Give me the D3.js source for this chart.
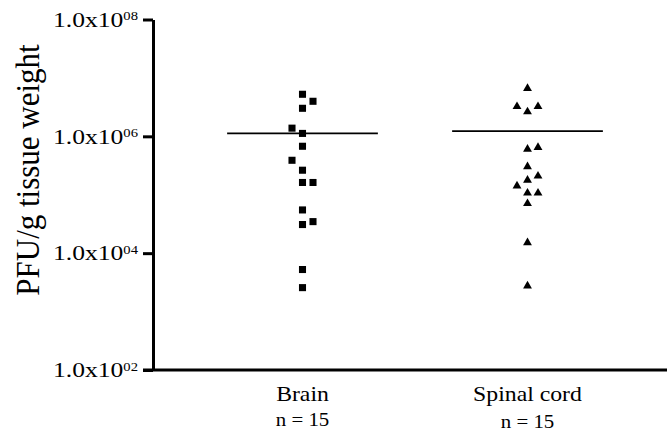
<!DOCTYPE html>
<html>
<head>
<meta charset="utf-8">
<script src="https://cdn.jsdelivr.net/npm/d3@7"></script>
<style>
  body { margin: 0; background: #fff; }
  text { font-family: "Liberation Serif", "DejaVu Serif", serif; fill: #000; }
</style>
</head>
<body>
<div id="chart"></div>
<script>
// categories and n labels
let groups = ["Brain", "Spinal cord"];
let nLabels = ["n = 15", "n = 15"];

// PFU/g values (log10), with dodge slot (-1 left, 0 centre, 1 right)
let brainLog = [6.72, 6.60, 6.48, 6.14, 6.05, 5.83, 5.59, 5.42, 5.21, 5.21, 4.74, 4.54, 4.49, 3.72, 3.41];
let brainSlot = [0, 1, 0, -1, 0, 0, -1, 0, 0, 1, 0, 1, 0, 0, 0];
let cordLog = [6.82, 6.51, 6.42, 6.51, 5.78, 5.81, 5.48, 5.25, 5.32, 5.15, 5.03, 5.03, 4.85, 4.18, 3.44];
let cordSlot = [0, -1, 0, 1, 0, 1, 0, 0, 1, -1, 0, 1, 0, 0, 0];

// horizontal line per group (log10)
let centreLog = [6.05, 6.09];

let yTicks = [1e2, 1e4, 1e6, 1e8];

let W = 667, H = 434;

let svg = d3.select('#chart')
    .append('svg')
    .attr('width', W)
    .attr('height', H);

let yScale = d3.scaleLog()
    .domain([1e2, 1e8])
    .range([370, 19.5]);

let xScale = d3.scaleBand()
    .domain(groups)
    .range([190, 640]);

let dodge = d3.scaleLinear().domain([-1, 1]).range([-10.5, 10.5]);

let series = [
    {group: "Brain", logs: brainLog, slots: brainSlot, shape: d3.symbolSquare, size: 50},
    {group: "Spinal cord", logs: cordLog, slots: cordSlot, shape: d3.symbolTriangle, size: 34}
];

// y axis
let yAxis = d3.axisLeft(yScale)
    .tickValues(yTicks)
    .tickSize(10)
    .tickSizeOuter(0)
    .tickFormat('');

let gy = svg.append('g')
    .attr('transform', 'translate(153,0)')
    .call(yAxis);
gy.select('.domain').attr('stroke', '#000').attr('stroke-width', 3);
gy.selectAll('.tick line').attr('stroke', '#000').attr('stroke-width', 3);

// tick labels 1.0x10^NN (the original is stretched sideways)
gy.selectAll('.tick').each(function (d) {
    let t = d3.select(this).append('text')
        .attr('transform', 'translate(-15,0) scale(1.22,1)')
        .attr('dy', '0.32em')
        .attr('text-anchor', 'end')
        .style('font-size', '21px');
    t.append('tspan').text('1.0x10');
    t.append('tspan')
        .attr('dy', '-0.55em')
        .style('font-size', '12px')
        .text(d3.format('02d')(Math.round(Math.log10(d))));
});

// x axis line
svg.append('line')
    .attr('x1', 143).attr('x2', W)
    .attr('y1', yScale(1e2)).attr('y2', yScale(1e2))
    .attr('stroke', '#000')
    .attr('stroke-width', 3);

// y title
svg.append('text')
    .attr('transform', 'translate(39,170) rotate(-90) scale(1,1.1)')
    .attr('text-anchor', 'middle')
    .style('font-size', '31px')
    .text('PFU/g tissue weight');

// category labels
groups.forEach(function (g, i) {
    let cx = xScale(g) + xScale.bandwidth() / 2;
    svg.append('text')
        .attr('transform', 'translate(' + cx + ',401) scale(1.08,1)')
        .attr('text-anchor', 'middle')
        .style('font-size', '22px')
        .text(g);
    svg.append('text')
        .attr('transform', 'translate(' + cx + ',' + (426 + i * 2) + ') scale(1.1,1)')
        .attr('text-anchor', 'middle')
        .style('font-size', '19px')
        .text(nLabels[i]);
});

// centre lines
svg.selectAll('.centre')
    .data(groups)
    .enter()
    .append('line')
    .attr('class', 'centre')
    .attr('x1', function (d) { return xScale(d) + xScale.bandwidth() * 0.165; })
    .attr('x2', function (d) { return xScale(d) + xScale.bandwidth() * 0.835; })
    .attr('y1', function (d, i) { return yScale(Math.pow(10, centreLog[i])); })
    .attr('y2', function (d, i) { return yScale(Math.pow(10, centreLog[i])); })
    .attr('stroke', '#000')
    .attr('stroke-width', 1.6);

// points
series.forEach(function (s) {
    let cx = xScale(s.group) + xScale.bandwidth() / 2;
    svg.append('g')
        .selectAll('path')
        .data(s.logs)
        .enter()
        .append('path')
        .attr('d', d3.symbol().type(s.shape).size(s.size))
        .attr('transform', function (d, i) {
            return 'translate(' + (cx + dodge(s.slots[i])) + ',' + yScale(Math.pow(10, d)) + ')';
        })
        .attr('fill', '#000');
});
</script>
</body>
</html>
